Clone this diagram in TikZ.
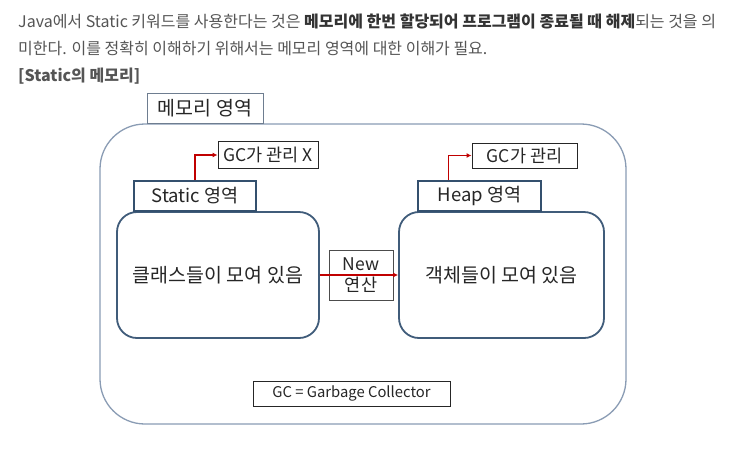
\documentclass[tikz,border=0pt]{standalone}
\usepackage{fontspec}
\setmainfont{Noto Sans CJK KR}
\usetikzlibrary{arrows.meta,calc}
\definecolor{txtgray}{HTML}{555555}
\definecolor{txtdark}{HTML}{333333}
\definecolor{bigline}{HTML}{8A9CB4}
\definecolor{innerline}{HTML}{405C7A}
\definecolor{labline}{HTML}{34506E}
\definecolor{arrred}{HTML}{C00000}
\tikzset{
  para/.style={anchor=west, inner sep=0pt, text=txtgray, font=\fontsize{16}{18}\selectfont},
  bigbox/.style={draw=bigline, line width=1.3pt, rounded corners=45pt, minimum width=526pt, minimum height=300pt},
  areabox/.style={draw=innerline, line width=1.8pt, rounded corners=20pt, fill=white, text=black!85, font=\fontsize{19.5}{21}\selectfont},
  labbox/.style={draw=labline, line width=1.6pt, fill=white, text=black!85, font=\fontsize{18.5}{20}\selectfont, inner sep=0pt},
  memlab/.style={draw=bigline!80!black, line width=1pt, fill=white, text=black!85, font=\fontsize{19.5}{21}\selectfont, inner sep=0pt},
  gcbox/.style={draw=black!85, line width=0.9pt, fill=white, text=black!85, font=\fontsize{17.5}{19}\selectfont, inner sep=0pt},
  redarrow/.style={draw=arrred, line width=1.4pt, -{Latex[length=5pt,width=5pt]}},
}
\begin{document}
\begin{tikzpicture}[x=1pt,y=-1pt]
\useasboundingbox[fill=white] (0,0) rectangle (746,448);
% paragraph
\node[para] (l1) at (18,21) {Java에서 Static 키워드를 사용한다는 것은 {\bfseries\color{txtdark}메모리에 한번 할당되어 프로그램이 종료될 때 해제}되는 것을 의};
\node[para] (l2) at (18,48) {미한다. 이를 정확히 이해하기 위해서는 메모리 영역에 대한 이해가 필요.};
\node[para, font=\bfseries\fontsize{16}{18}\selectfont] (l3) at (18,76) {[Static의 메모리]};
% big memory box
\node[bigbox] (mem) at (363,274) {};
\node[memlab, minimum width=116pt, minimum height=30pt] (memlabel) at (205,108.5) {메모리 영역};
% static side
\node[areabox, minimum width=202pt, minimum height=126pt] (static) at (218,275) {클래스들이 모여 있음};
\node[labbox, minimum width=122pt, minimum height=30pt] (slabel) at (195,196) {Static 영역};
\node[gcbox, minimum width=100pt, minimum height=27pt] (gcx) at (268,155) {GC가 관리 X};
% heap side
\node[areabox, minimum width=205pt, minimum height=126pt] (heap) at (501.5,275) {객체들이 모여 있음};
\node[labbox, minimum width=123pt, minimum height=30pt] (hlabel) at (479.5,196) {Heap 영역};
\node[gcbox, minimum width=105pt, minimum height=25pt] (gco) at (524.5,155.5) {GC가 관리};
% new
\node[gcbox, draw=black!70, minimum width=64pt, minimum height=50pt, align=center, font=\fontsize{17.5}{21}\selectfont] (new) at (361,275) {New\\연산};
% legend
\node[gcbox, minimum width=197pt, minimum height=25pt, font=\fontsize{14.8}{16}\selectfont] (legend) at (351.5,393.5) {GC = Garbage Collector};
% arrows
\draw[redarrow] (slabel.north) |- (gcx.west);
\draw[redarrow] ($(hlabel.north west)!0.25!(hlabel.north east)$) |- (gco.west);
\draw[redarrow] (static.east) -- (heap.west);
\end{tikzpicture}
\end{document}
